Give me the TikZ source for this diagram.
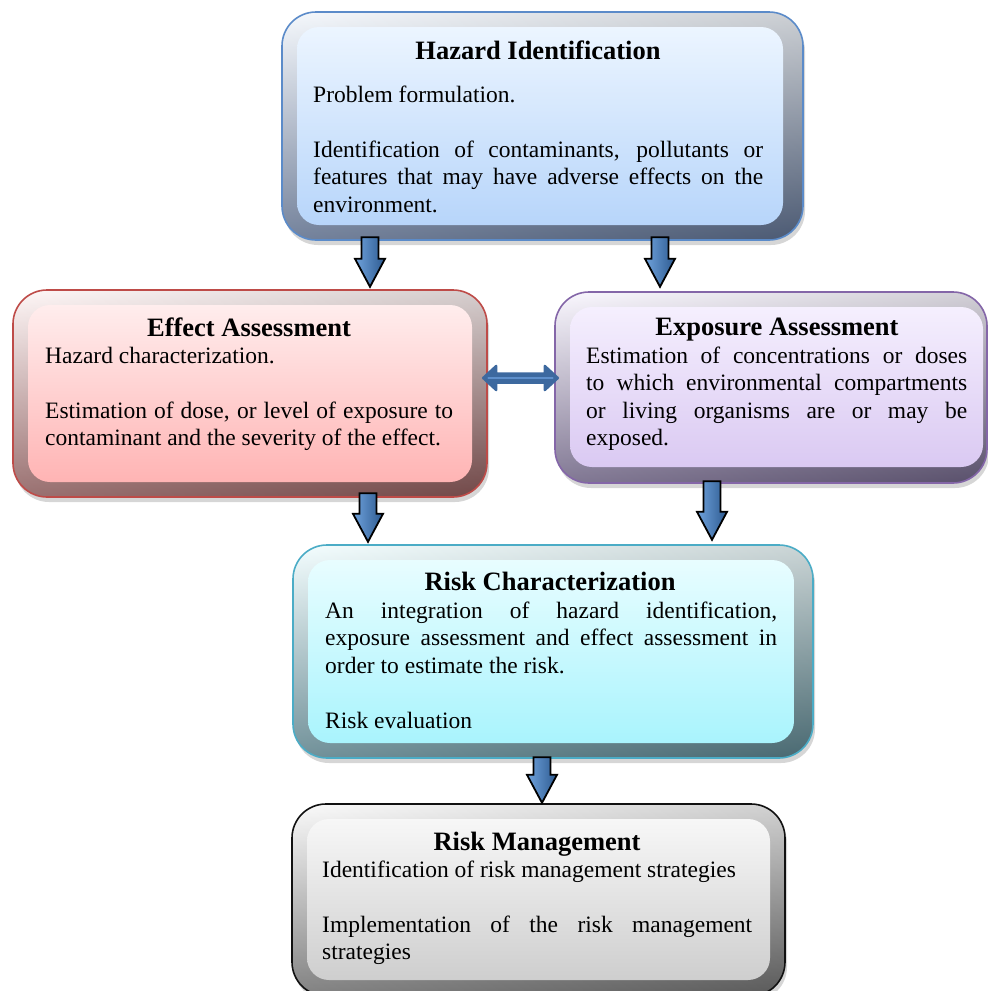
\documentclass[tikz,border=0pt]{standalone}
\usepackage{fontspec}
\setmainfont{Liberation Serif}
\usetikzlibrary{calc,fit}

% palettes: outline, frame top, frame bottom, panel top, panel bottom
\definecolor{haz-line}{HTML}{5B8BC9}
\definecolor{haz-ftop}{HTML}{F4F8FD}
\definecolor{haz-fbot}{HTML}{5A6B89}
\definecolor{haz-ptop}{HTML}{ECF5FF}
\definecolor{haz-pbot}{HTML}{B7D5FA}

\definecolor{eff-line}{HTML}{BE4B48}
\definecolor{eff-ftop}{HTML}{FFF6F6}
\definecolor{eff-fbot}{HTML}{875656}
\definecolor{eff-ptop}{HTML}{FFEDED}
\definecolor{eff-pbot}{HTML}{FFB4B4}

\definecolor{exp-line}{HTML}{8466A8}
\definecolor{exp-ftop}{HTML}{FAF7FF}
\definecolor{exp-fbot}{HTML}{6A5F80}
\definecolor{exp-ptop}{HTML}{F5EFFE}
\definecolor{exp-pbot}{HTML}{DAC9F2}

\definecolor{rc-line}{HTML}{4BACC6}
\definecolor{rc-ftop}{HTML}{F2FEFF}
\definecolor{rc-fbot}{HTML}{577D87}
\definecolor{rc-ptop}{HTML}{E8FDFF}
\definecolor{rc-pbot}{HTML}{A9F4FD}

\definecolor{rm-line}{HTML}{111111}
\definecolor{rm-ftop}{HTML}{FAFAFA}
\definecolor{rm-fbot}{HTML}{6A6A6A}
\definecolor{rm-ptop}{HTML}{F7F7F7}
\definecolor{rm-pbot}{HTML}{CECECE}

\definecolor{arrowlight}{HTML}{6FA2DC}
\definecolor{arrowdark}{HTML}{2D5A90}
\definecolor{linkblue}{HTML}{3D699F}
\definecolor{linkhi}{HTML}{5E8FCB}

\tikzset{
  titletext/.style={font=\fontsize{26.5}{30}\selectfont\bfseries, anchor=base, inner sep=0pt},
  bodytext/.style={anchor=base west, inner sep=0pt},
  blockarrow/.style={draw=black, line width=1.8pt, left color=arrowlight, right color=arrowdark, line join=miter},
}

% justified body paragraph of a given width
\newcommand\bodypar[2]{\parbox[t]{#1}{\fontsize{23.5}{27.5}\selectfont
  \tolerance=10000 \hyphenpenalty=10000 #2}}

% bevelled rounded panel: #1 name, #2 outer nw, #3 outer se, #4 inner nw, #5 inner se, #6 palette
\newcommand\bevelpanel[6]{%
  \fill[black, opacity=0.16, rounded corners=34pt] ($#2+(2,5)$) rectangle ($#3+(2,5)$);
  \shade[rounded corners=34pt, top color=#6-ftop, bottom color=#6-fbot] #2 rectangle #3;
  \shade[rounded corners=34pt, left color=white, right color=black, opacity=0.16] #2 rectangle #3;
  \shade[rounded corners=22pt, top color=#6-ptop, bottom color=#6-pbot] #4 rectangle #5;
  \draw[rounded corners=34pt, #6-line, line width=1.6pt] #2 rectangle #3;
  \node[fit={#2 #3}, inner sep=0pt] (#1) {};
}

% downward block arrow from #1 (top of shaft) to #2 (tip)
\newcommand\downblock[2]{%
  \path[blockarrow] let \p1=(#1), \p2=(#2) in
    (\x1-8.5pt,\y1) -- (\x1+8.5pt,\y1) -- (\x1+8.5pt,\y2+28pt) -- (\x1+15pt,\y2+28pt)
    -- (\x1,\y2) -- (\x1-15pt,\y2+28pt) -- (\x1-8.5pt,\y2+28pt) -- cycle;}

\begin{document}
\begin{tikzpicture}[x=1pt, y=-1pt]
\useasboundingbox (0,0) rectangle (988,991);

% boxes
\bevelpanel{haz}{(282,12)}{(803,240)}{(297,27)}{(783,225)}{haz}
\bevelpanel{eff}{(13,290)}{(487,497)}{(28,305)}{(472,482)}{eff}
\bevelpanel{exp}{(555,292)}{(987,483)}{(570,307)}{(983,467)}{exp}
\bevelpanel{rc}{(293,545)}{(813,758)}{(308,560)}{(794,743)}{rc}
\bevelpanel{rm}{(292,804)}{(785,996)}{(307,819)}{(770,980)}{rm}

% texts
\node[titletext] (hazt) at (538,59) {Hazard Identification};
\node[bodytext] (hazb) at (313,102) {\bodypar{450pt}{%
   Problem formulation.\\[27.5pt]
   Identification of contaminants, pollutants or\linebreak
   features that may have adverse effects on the\linebreak
   environment.}};

\node[titletext] (efft) at (249,336) {Effect Assessment};
\node[bodytext] (effb) at (45,363) {\bodypar{408pt}{%
   Hazard characterization.\\[27.5pt]
   Estimation of dose, or level of exposure to\linebreak
   contaminant and the severity of the effect.}};

\node[titletext] (expt) at (777,335) {Exposure Assessment};
\node[bodytext] (expb) at (586,363) {\bodypar{381pt}{%
   Estimation of concentrations or doses\linebreak
   to which environmental compartments\linebreak
   or living organisms are or may be\linebreak
   exposed.}};

\node[titletext] (rct) at (550,590) {Risk Characterization};
\node[bodytext] (rcb) at (325,618) {\bodypar{452pt}{%
   An integration of hazard identification,\linebreak
   exposure assessment and effect assessment in\linebreak
   order to estimate the risk.\\[27.5pt]
   Risk evaluation}};

\node[titletext] (rmt) at (537,850) {Risk Management};
\node[bodytext] (rmb) at (322,877) {\bodypar{430pt}{%
   Identification of risk management strategies\\[27.5pt]
   Implementation of the risk management\linebreak
   strategies}};

% flow arrows
\downblock{$(haz.south -| 370,0)+(0,-3)$}{$(eff.north -| 370,0)+(0,-3)$}
\downblock{$(haz.south -| 660,0)+(0,-3)$}{$(exp.north -| 660,0)+(0,-5)$}
\downblock{$(eff.south -| 368,0)+(0,-4)$}{$(rc.north -| 368,0)+(0,-3)$}
\downblock{$(exp.south -| 712,0)+(0,-2)$}{$(rc.north -| 712,0)+(0,-5)$}
\downblock{$(rc.south -| 542,0)+(0,-1)$}{$(rm.north -| 542,0)+(0,-1)$}

% two-way link between the assessments
\coordinate (dl) at ($(eff.east |- 0,378)+(-4,0)$);
\coordinate (dr) at ($(exp.west |- 0,378)+(3,0)$);
\path[fill=linkblue, draw=linkblue, line width=2.5pt, line join=round]
  (dl) -- ($(dl)+(13,-12)$) -- ($(dl)+(13,-4.5)$) -- ($(dr)+(-13,-4.5)$) -- ($(dr)+(-13,-12)$)
  -- (dr) -- ($(dr)+(-13,12)$) -- ($(dr)+(-13,4.5)$) -- ($(dl)+(13,4.5)$) -- ($(dl)+(13,12)$) -- cycle;
\draw[linkhi, line width=1.5pt, line cap=round] ($(dl)+(5,0)$) -- ($(dr)+(-5,0)$);
\end{tikzpicture}
\end{document}
